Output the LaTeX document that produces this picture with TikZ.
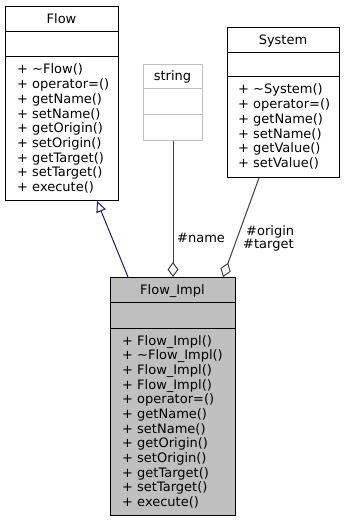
\documentclass[tikz,border=0pt]{standalone}
\usepackage{fontspec}
\setmainfont{DejaVu Sans}
\usetikzlibrary{arrows.meta}

\definecolor{edgegray}{HTML}{404040}
\definecolor{implfill}{HTML}{BFBFBF}
\definecolor{extgray}{HTML}{BFBFBF}
\definecolor{inhblue}{HTML}{191970}

\tikzset{
  frame/.style={rectangle, draw=black, line width=1pt, inner sep=0pt, anchor=north west},
  extframe/.style={frame, draw=extgray},
  implframe/.style={frame, fill=implfill},
  title/.style={inner sep=0pt, anchor=base},
  member/.style={inner sep=0pt, anchor=base west},
  lbl/.style={inner sep=0pt, anchor=base west},
  inherit/.style={draw=inhblue, line width=1pt, -{Triangle[open, length=11pt, width=10pt]}},
  assoc/.style={draw=edgegray, line width=1pt, {Diamond[open, length=15pt, width=11pt]}-},
}

\begin{document}
\begin{tikzpicture}[x=1pt, y=-1pt, font=\fontsize{13pt}{14.67pt}\selectfont]
\useasboundingbox (0,0) rectangle (345,521);

% class Flow
\node[frame, minimum width=113pt, minimum height=194pt] (flow) at (5,6) {};
\draw[line width=1pt] (5,32) -- (118,32) (5,57) -- (118,57);
\node[title] (flowname) at (61.5,23.5) {Flow};
\foreach [count=\i] \t in {+ \textasciitilde Flow(), + operator=(), + getName(), + setName(),
    + getOrigin(), + setOrigin(), + getTarget(), + setTarget(), + execute()}
  \node[member] (flowop\i) at (17,{74+(\i-1)*14.67}) {\t};

% external class string
\node[extframe, minimum width=59pt, minimum height=76pt] (string) at (143,64) {};
\draw[line width=1pt, extgray] (143,89) -- (202,89) (143,115) -- (202,115);
\node[title] (stringname) at (172.5,81) {string};

% class System
\node[frame, minimum width=112pt, minimum height=150pt] (system) at (227,27) {};
\draw[line width=1pt] (227,53) -- (339,53) (227,77) -- (339,77);
\node[title] (systemname) at (283,44.5) {System};
\foreach [count=\i] \t in {+ \textasciitilde System(), + operator=(), + getName(), + setName(),
    + getValue(), + setValue()}
  \node[member] (systemop\i) at (238,{94+(\i-1)*14.67}) {\t};

% class Flow_Impl
\node[implframe, minimum width=125pt, minimum height=238pt] (flowimpl) at (110,277) {};
\draw[line width=1pt] (110,302) -- (235,302) (110,328) -- (235,328);
\node[title] (flowimplname) at (172.5,294) {Flow\_Impl};
\foreach [count=\i] \t in {+ Flow\_Impl(), + \textasciitilde Flow\_Impl(), + Flow\_Impl(), + Flow\_Impl(),
    + operator=(), + getName(), + setName(), + getOrigin(), + setOrigin(),
    + getTarget(), + setTarget(), + execute()}
  \node[member] (flowimplop\i) at (122,{345+(\i-1)*14.67}) {\t};

% inheritance and associations
\draw[inherit] ([xshift=18pt]flowimpl.north west) -- ([xshift=92pt]flow.south west);
\draw[assoc] ([xshift=63pt]flowimpl.north west) -- (string.south);
\draw[assoc] ([xshift=113pt]flowimpl.north west) -- ([xshift=32pt]system.south west);

\node[lbl] (namelbl) at (177,242.5) {\#name};
\node[lbl] (originlbl) at (246,235.5) {\#origin};
\node[lbl] (targetlbl) at (243,248.5) {\#target};
\end{tikzpicture}
\end{document}
